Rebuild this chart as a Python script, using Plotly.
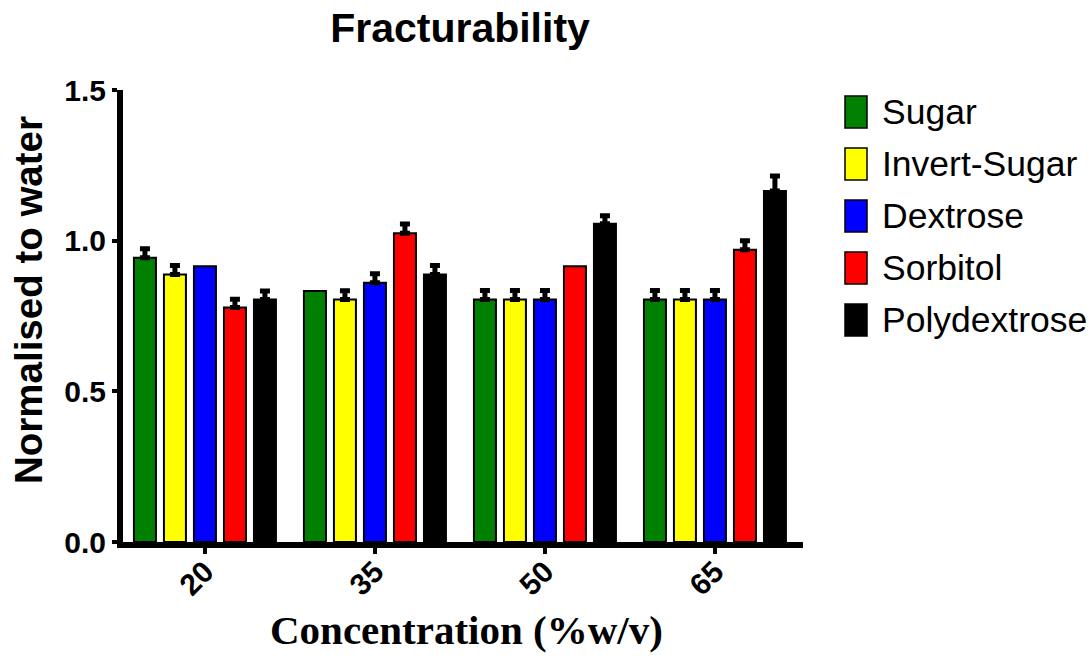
import plotly.graph_objects as go

# ---- data ----
categories = ["20", "35", "50", "65"]
series_names = ["Sugar", "Invert-Sugar", "Dextrose", "Sorbitol", "Polydextrose"]
series_colors = ["#008000", "#FFFF00", "#0000FF", "#FF0000", "#000000"]

sugar = [0.943, 0.833, 0.805, 0.805]
invert_sugar = [0.888, 0.805, 0.805, 0.805]
dextrose = [0.915, 0.860, 0.805, 0.805]
sorbitol = [0.778, 1.025, 0.915, 0.970]
polydextrose = [0.805, 0.888, 1.056, 1.165]

# None = no error bar visible in the reference
sugar_err = [0.030, None, 0.030, 0.030]
invert_sugar_err = [0.030, 0.029, 0.030, 0.030]
dextrose_err = [None, 0.030, 0.030, 0.030]
sorbitol_err = [0.028, 0.030, None, 0.030]
polydextrose_err = [0.028, 0.030, 0.027, 0.050]

values = [sugar, invert_sugar, dextrose, sorbitol, polydextrose]
errors = [sugar_err, invert_sugar_err, dextrose_err, sorbitol_err, polydextrose_err]

y_tickvals = [0.0, 0.5, 1.0, 1.5]
y_ticktext = ["0.0", "0.5", "1.0", "1.5"]

# ---- layout geometry (pixels) ----
W, H = 1091, 661
PL, PR, PT, PB = 123, 803, 90, 542  # plot area edges


def px(x):
    return (x - PL) / (PR - PL)


def py(y):
    return (PB - y) / (PB - PT)


SANS = "Liberation Sans, Arial, Helvetica, sans-serif"
SERIF = "Liberation Serif, Times New Roman, serif"

fig = go.Figure()
for name, color, vals, errs in zip(series_names, series_colors, values, errors):
    # "NaN" strings make plotly.js skip the error bar for that point
    up = [e if e is not None else "NaN" for e in errs]
    down = [0 if e is not None else "NaN" for e in errs]
    fig.add_trace(go.Bar(
        x=categories,
        y=vals,
        name=name,
        marker=dict(color=color, line=dict(color="black", width=2)),
        error_y=dict(type="data", symmetric=False, array=up, arrayminus=down,
                     color="black", thickness=5, width=5),
        showlegend=False,
    ))

annotations = []
shapes = []
# manual legend
leg_y0 = 112
leg_step = 52
for i, (name, color) in enumerate(zip(series_names, series_colors)):
    cy = leg_y0 + i * leg_step
    shapes.append(dict(type="rect", xref="paper", yref="paper",
                       x0=px(845), x1=px(867), y0=py(cy + 16), y1=py(cy - 16),
                       fillcolor=color, line=dict(color="black", width=1.5)))
    annotations.append(dict(xref="paper", yref="paper", x=px(880), y=py(cy),
                            xanchor="left", yanchor="middle", showarrow=False,
                            text=name, font=dict(family=SANS, size=35.5, color="black")))

# axis titles
annotations.append(dict(xref="paper", yref="paper", x=px(28), y=py(300),
                        xanchor="center", yanchor="middle", showarrow=False,
                        text="Normalised to water", textangle=-90,
                        font=dict(family=SANS, size=38.5, color="black", weight="bold")))
annotations.append(dict(xref="paper", yref="paper", x=px(466), y=py(630),
                        xanchor="center", yanchor="middle", showarrow=False,
                        text="Concentration (%w/v)",
                        font=dict(family=SERIF, size=41, color="black", weight="bold")))

fig.update_layout(
    width=W, height=H,
    margin=dict(l=PL, r=W - PR, t=PT, b=H - PB, pad=0),
    paper_bgcolor="white", plot_bgcolor="white",
    barmode="group", bargap=0.1176, bargroupgap=0.267,
    title=dict(text="Fracturability", x=px(460), xref="paper", xanchor="center",
               y=1 - 28 / H, yref="container", yanchor="middle",
               font=dict(family=SANS, size=41, color="black", weight="bold")),
    xaxis=dict(type="category", range=[-0.482, 3.518],
               showline=True, linecolor="black", linewidth=6,
               ticks="outside", ticklen=6, tickwidth=4, tickcolor="black",
               tickangle=-45, ticklabelstandoff=-12,
               showgrid=False, zeroline=False,
               tickfont=dict(family=SANS, size=30, color="black", weight="bold")),
    yaxis=dict(range=[0, 1.5], tickvals=y_tickvals, ticktext=y_ticktext,
               showline=True, linecolor="black", linewidth=6,
               ticks="outside", ticklen=5, tickwidth=4, tickcolor="black",
               showgrid=False, zeroline=False,
               tickfont=dict(family=SANS, size=30, color="black", weight="bold")),
    shapes=shapes,
    annotations=annotations,
)

fig.write_html("out.html", config={"displayModeBar": False},
               post_script="document.body.style.margin='0';document.body.style.overflow='hidden';")
